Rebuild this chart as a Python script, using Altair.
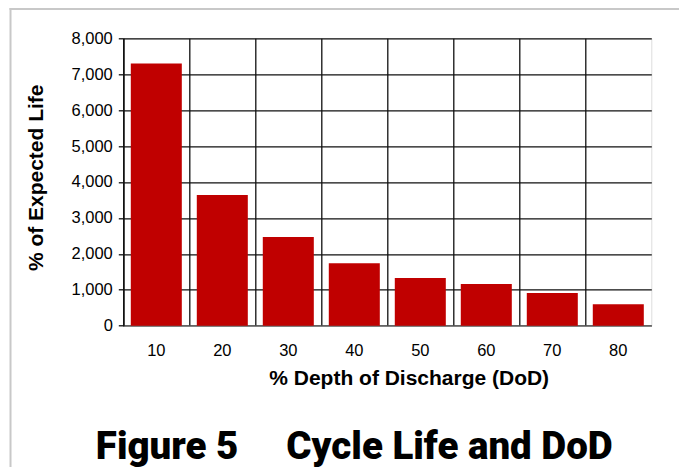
import altair as alt
import pandas as pd

# Data
dod = [10, 20, 30, 40, 50, 60, 70, 80]
life = [7300, 3640, 2470, 1740, 1330, 1160, 910, 600]
y_ticks = [0, 1000, 2000, 3000, 4000, 5000, 6000, 7000, 8000]

df = pd.DataFrame({"dod": dod, "life": life})
frame_df = pd.DataFrame({"k": [0]})

W = 528
H = 287.4
FONT = "Liberation Sans"

x_scale = alt.Scale(paddingInner=0, paddingOuter=0)

y_enc = alt.Y(
    "life:Q",
    scale=alt.Scale(domain=[0, 8000], nice=False),
    axis=alt.Axis(
        values=y_ticks,
        format=",d",
        grid=True,
        gridColor="#111111",
        gridWidth=1.3,
        domainColor="#111111",
        domainWidth=1.5,
        tickColor="#111111",
        tickSize=5,
        tickWidth=1.3,
        labelPadding=6,
        labelFont=FONT,
        labelFontSize=16.5,
        labelColor="black",
        title="% of Expected Life",
        titleFont=FONT,
        titleFontSize=21,
        titleFontWeight="bold",
        titleColor="black",
        titleAngle=270,
        titleX=-80.5,
        titleY=139,
        titleAlign="center",
        titleBaseline="alphabetic",
    ),
)

bars = alt.Chart(df).mark_bar(
    color="#C00000", width=alt.RelativeBandSize(0.773)
).encode(
    x=alt.X(
        "dod:O",
        scale=x_scale,
        axis=alt.Axis(
            orient="bottom",
            grid=False,
            ticks=False,
            labelAngle=0,
            labelPadding=17,
            labelFont=FONT,
            labelFontSize=16.5,
            labelColor="black",
            domainColor="#808080",
            domainWidth=1.5,
            title="% Depth of Discharge (DoD)",
            titleFont=FONT,
            titleFontSize=21,
            titleFontWeight="bold",
            titleColor="black",
            titleX=285.4,
            titleY=59.3,
            titleAlign="center",
            titleBaseline="alphabetic",
        ),
    ),
    y=y_enc,
)

grid_layer = alt.Chart(df).mark_bar(opacity=0).encode(
    x=alt.X(
        "dod:O",
        scale=x_scale,
        axis=alt.Axis(
            orient="top",
            grid=True,
            gridColor="#111111",
            gridWidth=1.3,
            bandPosition=0,
            labels=False,
            ticks=False,
            domain=False,
            title=None,
        ),
    ),
    y=y_enc,
)

frame_left = alt.Chart(frame_df).mark_rect(color="#c8c8c8").encode(
    x=alt.value(-113.8), x2=alt.value(-111.8), y=alt.value(-30.3), y2=alt.value(H + 141.7)
)
frame_top = alt.Chart(frame_df).mark_rect(color="#c8c8c8").encode(
    x=alt.value(-113.8), x2=alt.value(W + 27.7), y=alt.value(-30.3), y2=alt.value(-28.3)
)

chart = (
    alt.layer(grid_layer, bars, frame_left, frame_top)
    .resolve_axis(x="independent")
    .properties(
        width=W,
        height=H,
        padding={"left": 115.3, "top": 30.3, "right": 27.7, "bottom": 141.7},
        autosize=alt.AutoSizeParams(type="none"),
        title=alt.TitleParams(
            text="Figure 5\u00a0\u00a0\u00a0\u00a0\u00a0Cycle Life and DoD",
            orient="bottom",
            anchor="middle",
            frame="group",
            font="Roboto",
            fontSize=38.5,
            fontWeight=900,
            color="black",
            offset=23,
            dx=-33,
            dy=-31,
            baseline="alphabetic",
        ),
    )
    .configure_view(stroke="#808080", strokeWidth=1.5)
    .configure(background="white")
)

chart.save("out.html", embed_options={"renderer": "svg", "actions": False})
